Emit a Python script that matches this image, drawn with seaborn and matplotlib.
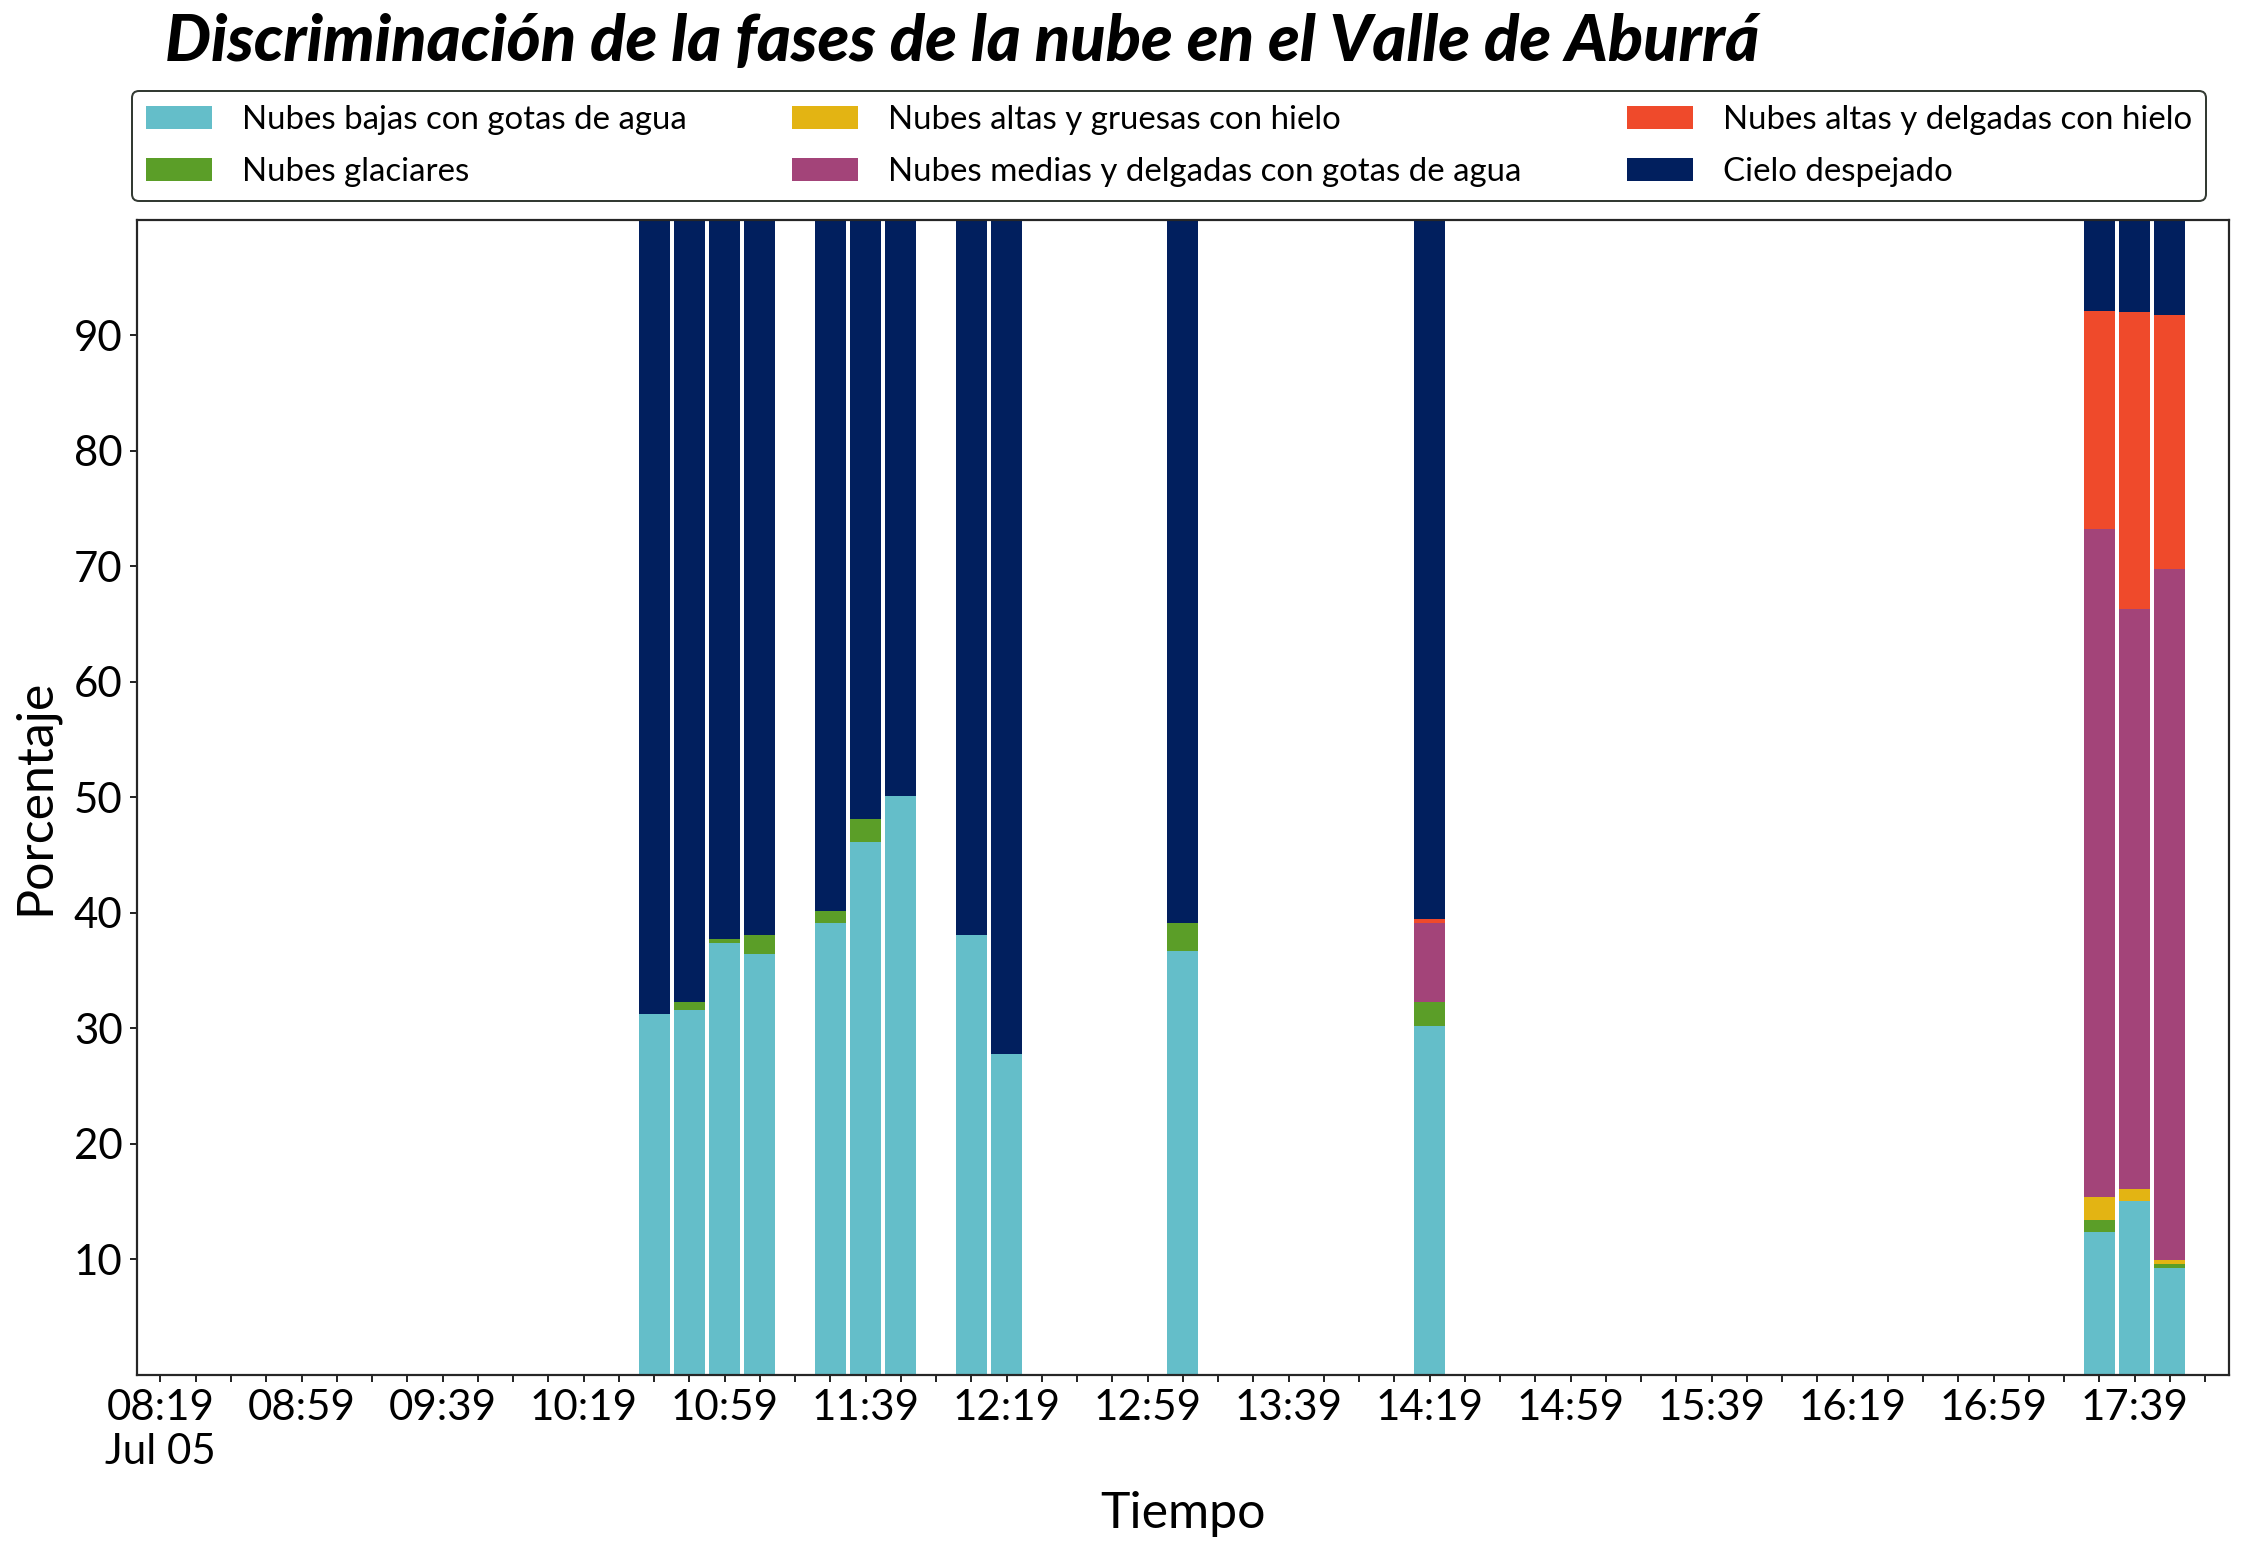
import pandas as pd
import matplotlib.pyplot as plt
from matplotlib.patches import Patch
import seaborn as sns

# time of each observation (Jul 05) and share of each phase (%)
horas = ["10:39", "10:49", "10:59", "11:09", "11:29", "11:39", "11:49",
         "12:09", "12:19", "13:09", "14:19", "17:29", "17:39", "17:49"]
bajas = [31.2, 31.6, 37.4, 36.4, 39.1, 46.1, 50.1, 38.1, 27.8, 36.7, 30.2, 12.35, 15.0, 9.25]
glaciares = [0, 0.7, 0.35, 1.7, 1.05, 2.0, 0, 0, 0, 2.4, 2.1, 1.05, 0, 0.35]
altas_gruesas = [0, 0, 0, 0, 0, 0, 0, 0, 0, 0, 0, 2.0, 1.05, 0.35]
medias_delgadas = [0, 0, 0, 0, 0, 0, 0, 0, 0, 0, 6.8, 57.8, 50.25, 59.8]
altas_delgadas = [0, 0, 0, 0, 0, 0, 0, 0, 0, 0, 0.35, 18.9, 25.75, 22.0]
despejado = [68.8, 67.7, 62.25, 61.9, 59.85, 51.9, 49.9, 61.9, 72.2, 60.9, 60.55, 7.9, 7.95, 8.25]

fases = ["Nubes bajas con gotas de agua", "Nubes glaciares",
         "Nubes altas y gruesas con hielo", "Nubes medias y delgadas con gotas de agua",
         "Nubes altas y delgadas con hielo", "Cielo despejado"]
colores = ["#64bec9", "#5b9e28", "#e3b413", "#a34479", "#ef4a2b", "#011f5e"]

# x axis: ticks every 10 min, label every 40 min
primer_tick = "08:19"
ultimo_tick = "17:59"
fecha = "2023-07-05"

df = pd.DataFrame({
    "tiempo": pd.to_datetime([fecha + " " + h for h in horas]),
    fases[0]: bajas,
    fases[1]: glaciares,
    fases[2]: altas_gruesas,
    fases[3]: medias_delgadas,
    fases[4]: altas_delgadas,
    fases[5]: despejado,
})

sns.set_theme(style="ticks", palette=colores)
plt.rcParams["font.family"] = ["Lato", "DejaVu Sans"]
plt.rcParams["text.color"] = "black"
plt.rcParams["axes.labelcolor"] = "black"
plt.rcParams["axes.edgecolor"] = "#262626"
plt.rcParams["xtick.color"] = "#262626"
plt.rcParams["ytick.color"] = "#262626"
plt.rcParams["xtick.labelcolor"] = "black"
plt.rcParams["ytick.labelcolor"] = "black"

fig = plt.figure(figsize=(2244 / 144, 1559 / 144), dpi=144)
ax = fig.add_axes([136.7 / 2244, 1 - 1374.5 / 1559, (2229 - 136.7) / 2244, (1374.5 - 220) / 1559])

ancho = 8.8 / 1440  # bar width in days
base = pd.Series(0.0, index=df.index)
for fase, color in zip(fases, colores):
    ax.bar(df["tiempo"], df[fase], bottom=base, width=ancho, color=color, linewidth=0)
    base = base + df[fase]

ticks = pd.date_range(fecha + " " + primer_tick, fecha + " " + ultimo_tick, freq="10min")
etiquetas = []
for i, t in enumerate(ticks):
    if i % 4 == 0:
        etiquetas.append(t.strftime("%H:%M") + ("\n" + t.strftime("%b %d") if i == 0 else ""))
    else:
        etiquetas.append("")
ax.set_xticks(ticks)
ax.set_xticklabels(etiquetas, fontsize=21, ha="center")
margen = pd.Timedelta(minutes=6.75)
ax.set_xlim(ticks[0] - margen, ticks[-1] + margen)

ax.set_ylim(0, 100)
ax.set_yticks(range(10, 100, 10))
ax.tick_params(axis="y", labelsize=21)
ax.tick_params(length=3.5, width=1)
for s in ax.spines.values():
    s.set_linewidth(1.1)

ax.set_xlabel("Tiempo", fontsize=25, labelpad=10)
ax.set_ylabel("Porcentaje", fontsize=25, labelpad=8)

fig.text(165 / 2244, 1 - 61 / 1559, "Discriminación de la fases de la nube en el Valle de Aburrá",
         fontsize=32.5, fontweight="black", fontstyle="italic", ha="left", va="baseline",
         color="black")

manijas = [Patch(facecolor=c, edgecolor="none", label=f) for f, c in zip(fases, colores)]
leg = fig.legend(handles=manijas, ncol=3, loc="upper left", mode="expand",
                 bbox_to_anchor=(132 / 2244, 1 - 202 / 1559, (2206 - 132) / 2244, 111 / 1559),
                 bbox_transform=fig.transFigure,
                 borderaxespad=0, fontsize=16.5, frameon=True, fancybox=True,
                 handlelength=2.0, handleheight=0.7, handletextpad=0.9,
                 labelspacing=0.66, borderpad=0.42)
leg.get_frame().set_edgecolor("#333a33")
leg.get_frame().set_linewidth(1.0)
leg.get_frame().set_alpha(1)

fig.savefig("out.png", dpi=144)
